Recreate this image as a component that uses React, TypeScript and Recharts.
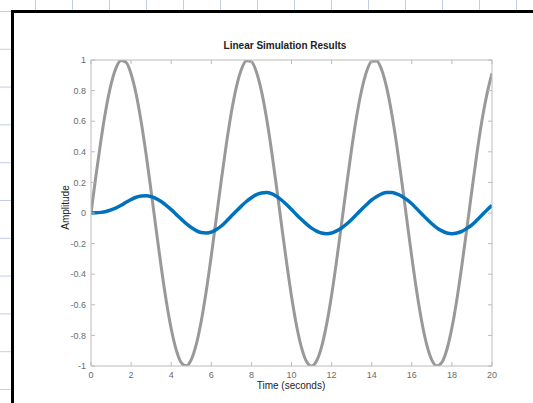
import React from 'react';
import { LineChart, Line, XAxis, YAxis } from 'recharts';

// time samples (seconds)
const time = [
  0, 0.25, 0.5, 0.75, 1, 1.25, 1.5, 1.75, 2, 2.25, 2.5, 2.75, 3, 3.25, 3.5, 3.75,
  4, 4.25, 4.5, 4.75, 5, 5.25, 5.5, 5.75, 6, 6.25, 6.5, 6.75, 7, 7.25, 7.5, 7.75,
  8, 8.25, 8.5, 8.75, 9, 9.25, 9.5, 9.75, 10, 10.25, 10.5, 10.75, 11, 11.25, 11.5, 11.75,
  12, 12.25, 12.5, 12.75, 13, 13.25, 13.5, 13.75, 14, 14.25, 14.5, 14.75, 15, 15.25, 15.5, 15.75,
  16, 16.25, 16.5, 16.75, 17, 17.25, 17.5, 17.75, 18, 18.25, 18.5, 18.75, 19, 19.25, 19.5, 19.75, 20,
];

// input signal (gray)
const input = [
  0, 0.247, 0.479, 0.682, 0.841, 0.949, 0.997, 0.984, 0.909, 0.778, 0.598, 0.382, 0.141, -0.108, -0.351, -0.572,
  -0.757, -0.895, -0.978, -0.999, -0.959, -0.859, -0.706, -0.508, -0.279, -0.033, 0.215, 0.45, 0.657, 0.823, 0.938, 0.995,
  0.989, 0.922, 0.798, 0.624, 0.412, 0.173, -0.075, -0.319, -0.544, -0.735, -0.88, -0.971, -1.0, -0.967, -0.875, -0.728,
  -0.537, -0.311, -0.066, 0.182, 0.42, 0.632, 0.804, 0.927, 0.991, 0.994, 0.935, 0.818, 0.65, 0.442, 0.206, -0.042,
  -0.288, -0.517, -0.712, -0.863, -0.961, -0.999, -0.976, -0.892, -0.751, -0.563, -0.34, -0.097, 0.15, 0.392, 0.606, 0.779, 0.913,
];

// system response (blue)
const output = [
  0, 0.001, 0.004, 0.01, 0.02, 0.033, 0.05, 0.07, 0.088, 0.103, 0.111, 0.112, 0.107, 0.094, 0.075, 0.05,
  0.022, -0.009, -0.04, -0.07, -0.095, -0.115, -0.128, -0.131, -0.125, -0.108, -0.085, -0.054, -0.02, 0.013, 0.045, 0.075,
  0.1, 0.12, 0.131, 0.134, 0.127, 0.11, 0.085, 0.055, 0.023, -0.011, -0.043, -0.073, -0.099, -0.118, -0.131, -0.135,
  -0.131, -0.117, -0.098, -0.072, -0.042, -0.009, 0.025, 0.056, 0.085, 0.108, 0.125, 0.134, 0.134, 0.125, 0.11, 0.087,
  0.06, 0.027, -0.006, -0.039, -0.07, -0.097, -0.117, -0.131, -0.135, -0.131, -0.12, -0.1, -0.077, -0.046, -0.013, 0.02, 0.05,
];

const xTicks = [0, 2, 4, 6, 8, 10, 12, 14, 16, 18, 20];
const yTicks = [-1, -0.8, -0.6, -0.4, -0.2, 0, 0.2, 0.4, 0.6, 0.8, 1];

const data = time.map((t, i) => ({ t, input: input[i], output: output[i] }));

const axisColor = '#bcbcbc';
const tickText = { fill: '#6a6a6a', fontSize: 9, fontFamily: 'Liberation Sans, Arial, sans-serif' };
const blank = () => '';

const App: React.FC = () => {
  return (
    <div
      style={{
        position: 'absolute',
        left: 0,
        top: 0,
        width: 533,
        height: 403,
        overflow: 'hidden',
        backgroundColor: '#fff',
        backgroundImage:
          'linear-gradient(to right, #c2cdea 1px, transparent 1px), linear-gradient(to bottom, #c2cdea 1px, transparent 1px)',
        backgroundSize: '37px 37.8px',
        backgroundPosition: '35px 11px',
        fontFamily: 'Liberation Sans, Arial, sans-serif',
      }}
    >
      <div
        style={{
          position: 'absolute',
          left: 11,
          top: 10,
          right: 0,
          bottom: 0,
          background: '#fff',
          borderLeft: '3px solid #000',
          borderTop: '3px solid #000',
        }}
      />
      <div style={{ position: 'absolute', left: 0, top: 0 }}>
        <LineChart width={533} height={403} data={data} margin={{ top: 59, right: 40, bottom: 7, left: 51 }}>
          <XAxis
            dataKey="t"
            type="number"
            domain={[0, 20]}
            ticks={xTicks}
            allowDataOverflow
            height={30}
            stroke={axisColor}
            tickSize={-4}
            tickMargin={10}
            tick={tickText}
            interval={0}
          />
          <XAxis
            xAxisId="top"
            orientation="top"
            dataKey="t"
            type="number"
            domain={[0, 20]}
            ticks={xTicks}
            allowDataOverflow
            height={1}
            stroke={axisColor}
            tickSize={-4}
            tickFormatter={blank}
            interval={0}
          />
          <YAxis
            type="number"
            domain={[-1, 1]}
            ticks={yTicks}
            allowDataOverflow
            width={40}
            stroke={axisColor}
            tickSize={-4}
            tickMargin={9}
            tick={tickText}
            interval={0}
          />
          <YAxis
            yAxisId="right"
            orientation="right"
            type="number"
            domain={[-1, 1]}
            ticks={yTicks}
            allowDataOverflow
            width={1}
            stroke={axisColor}
            tickSize={-4}
            tickFormatter={blank}
            interval={0}
          />
          {/* input is plotted against the top/right axes (same ranges) so the full box is drawn */}
          <Line
            xAxisId="top"
            yAxisId="right"
            dataKey="input"
            type="monotone"
            stroke="#999999"
            strokeWidth={3}
            dot={false}
            isAnimationActive={false}
          />
          <Line
            dataKey="output"
            type="monotone"
            stroke="#0072BD"
            strokeWidth={3.5}
            dot={false}
            isAnimationActive={false}
          />
        </LineChart>
      </div>
      <div
        style={{
          position: 'absolute',
          left: 185,
          width: 200,
          top: 40,
          textAlign: 'center',
          fontSize: 10,
          fontWeight: 'bold',
          color: '#222',
        }}
      >
        Linear Simulation Results
      </div>
      <div
        style={{
          position: 'absolute',
          left: 191,
          width: 200,
          top: 380,
          textAlign: 'center',
          fontSize: 10,
          color: '#222',
        }}
      >
        Time (seconds)
      </div>
      <div
        style={{
          position: 'absolute',
          left: 15,
          width: 100,
          top: 202,
          textAlign: 'center',
          fontSize: 10,
          color: '#222',
          transform: 'rotate(-90deg)',
        }}
      >
        Amplitude
      </div>
    </div>
  );
};

export default App;
